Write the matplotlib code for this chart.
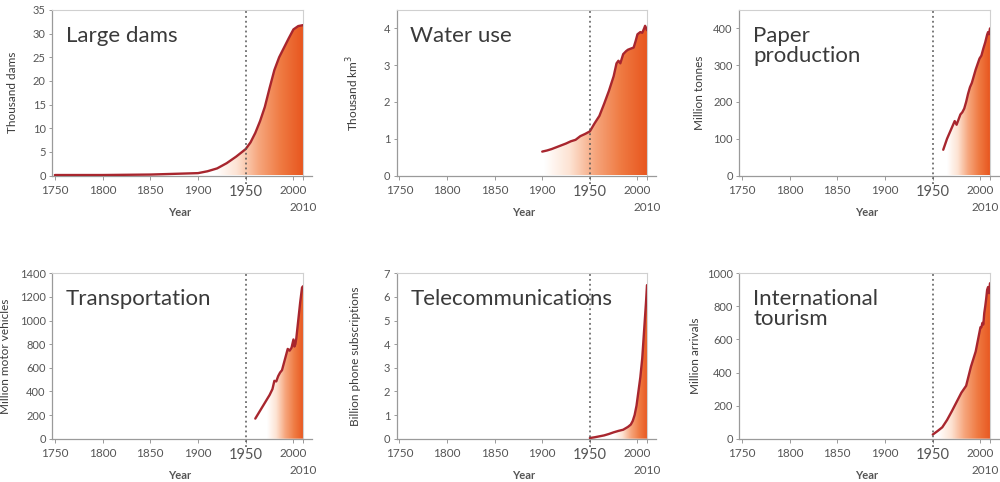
import numpy as np
import matplotlib
matplotlib.use("Agg")
import matplotlib.pyplot as plt
from matplotlib.colors import LinearSegmentedColormap

plt.rcParams["font.family"] = ["Lato", "DejaVu Sans"]

# ---- data -------------------------------------------------------------
dams_years = [1750, 1800, 1850, 1875, 1900, 1910, 1920, 1930, 1940, 1950,
              1955, 1960, 1965, 1970, 1975, 1980, 1985, 1990, 1995, 2000,
              2005, 2010]
dams_vals = [0.1, 0.1, 0.2, 0.35, 0.5, 0.9, 1.5, 2.6, 4.0, 5.6,
             7.0, 9.0, 11.5, 14.5, 18.5, 22.3, 25.0, 27.0, 29.0, 30.9,
             31.6, 31.8]

water_years = [1900, 1905, 1910, 1915, 1920, 1925, 1930, 1935, 1940, 1945,
               1950, 1955, 1960, 1965, 1970, 1975, 1978, 1980, 1982, 1985,
               1988, 1990, 1993, 1996, 1998, 2000, 2003, 2005, 2007, 2008,
               2010]
water_vals = [0.65, 0.68, 0.72, 0.77, 0.82, 0.87, 0.93, 0.97, 1.07, 1.13,
              1.2, 1.42, 1.62, 1.95, 2.3, 2.7, 3.05, 3.12, 3.05, 3.3,
              3.38, 3.42, 3.45, 3.48, 3.65, 3.84, 3.9, 3.88, 4.0, 4.07,
              3.95]

paper_years = [1961, 1963, 1965, 1967, 1970, 1973, 1975, 1977, 1979, 1981,
               1983, 1985, 1987, 1989, 1991, 1993, 1995, 1997, 1999, 2001,
               2003, 2005, 2007, 2008, 2009, 2010]
paper_vals = [70, 85, 100, 112, 130, 148, 138, 152, 166, 172,
              182, 200, 222, 240, 252, 270, 288, 303, 318, 326,
              345, 362, 383, 390, 384, 400]

vehicle_years = [1960, 1963, 1966, 1969, 1972, 1975, 1978, 1980, 1982, 1984,
                 1986, 1988, 1990, 1992, 1994, 1996, 1998, 2000, 2001, 2002,
                 2003, 2005, 2007, 2009, 2010]
vehicle_vals = [170, 210, 250, 290, 330, 370, 420, 490, 485, 530,
                560, 580, 640, 700, 760, 745, 770, 840, 780, 800,
                850, 1000, 1150, 1280, 1290]

phone_years = [1950, 1955, 1960, 1965, 1970, 1975, 1980, 1985, 1990, 1993,
               1995, 1997, 1999, 2001, 2003, 2005, 2007, 2009, 2010]
phone_vals = [0.03, 0.06, 0.1, 0.14, 0.2, 0.27, 0.33, 0.38, 0.5, 0.6,
              0.75, 1.0, 1.4, 2.0, 2.6, 3.4, 4.6, 5.8, 6.5]

tourism_years = [1950, 1955, 1960, 1965, 1970, 1975, 1980, 1985, 1990, 1995,
                 2000, 2001, 2002, 2003, 2004, 2005, 2006, 2007, 2008, 2009,
                 2010]
tourism_vals = [25, 46, 69, 113, 166, 222, 278, 320, 435, 527,
                674, 674, 700, 690, 760, 800, 846, 900, 917, 880,
                940]

titles = ["Large dams", "Water use", "Paper\nproduction",
          "Transportation", "Telecommunications", "International\ntourism"]
ylabels = ["Thousand dams", "Thousand km$^3$", "Million tonnes",
           "Million motor vehicles", "Billion phone subscriptions",
           "Million arrivals"]
ytick_sets = [list(range(0, 36, 5)), [0, 1, 2, 3, 4], [0, 100, 200, 300, 400],
              list(range(0, 1401, 200)), list(range(0, 8)),
              list(range(0, 1001, 200))]
ylims = [35, 4.5, 450, 1400, 7, 1000]
xtick_years = [1750, 1800, 1850, 1900, 1950, 2000]

series = [(dams_years, dams_vals), (water_years, water_vals),
          (paper_years, paper_vals), (vehicle_years, vehicle_vals),
          (phone_years, phone_vals), (tourism_years, tourism_vals)]

# ---- styling ----------------------------------------------------------
W, H = 1000, 482
col_px = [(52, 251), (396.5, 250.5), (739, 251)]
row_px = [(10, 175.5), (273.3, 438.7)]
fade_start = [1918, 1902, 1965, 1972, 1975, 1955]
ylabel_x = [-0.135, -0.14, -0.135, -0.163, -0.14, -0.15]
year_end_shift = [0, 0, -5]

line_color = "#a8262e"
text_color = "#3a3a3a"
tick_color = "#555555"
grad_cmap = LinearSegmentedColormap.from_list(
    "warm", ["#ffffff", "#fde3d3", "#f6a57c", "#ef7a42", "#e8561f"],
)

fig = plt.figure(figsize=(W / 100, H / 100), dpi=100)

for i, (yrs, vals) in enumerate(series):
    r, c = divmod(i, 3)
    left, width = col_px[c]
    top, bottom = row_px[r]
    ax = fig.add_axes([left / W, 1 - bottom / H, width / W, (bottom - top) / H])

    # gradient-filled area under the curve
    poly = ax.fill_between(yrs, vals, 0, color="none", lw=0)
    grad = np.linspace(0, 1, 512)[None, :]
    im = ax.imshow(grad, extent=[fade_start[i], 2010, 0, ylims[i]],
                   aspect="auto", cmap=grad_cmap, origin="lower",
                   interpolation="bilinear", zorder=1)
    im.set_clip_path(poly.get_paths()[0], transform=ax.transData)

    ax.plot(yrs, vals, color=line_color, lw=1.7, zorder=3,
            solid_joinstyle="round", solid_capstyle="round")

    # 1950 marker line
    ax.axvline(1950, ymin=-0.05, ymax=1, color="#555555", lw=1.1,
               ls=(0, (1.2, 2.0)), zorder=4, clip_on=False)

    ax.set_xlim(1747, 2010)
    ax.set_ylim(0, ylims[i])

    for side in ("top", "right"):
        ax.spines[side].set_color("#d0d0d0")
        ax.spines[side].set_linewidth(0.8)
    for side in ("left", "bottom"):
        ax.spines[side].set_color("#9a9a9a")
        ax.spines[side].set_linewidth(0.9)
    ax.plot([1.0, 1.035], [0, 0], transform=ax.transAxes, color="#9a9a9a",
            lw=0.9, clip_on=False)

    ax.set_xticks(xtick_years + [2010])
    ax.set_xticklabels([str(y) for y in xtick_years] + [""])
    for lab, y in zip(ax.get_xticklabels(), xtick_years + [2010]):
        lab.set_fontsize(10.5 if y == 1950 else 8.5)
        lab.set_color(tick_color)
    ax.tick_params(axis="x", length=3, width=0.7, color="#9a9a9a", pad=3.5)

    ax.set_yticks(ytick_sets[i])
    ax.set_yticklabels([str(v) for v in ytick_sets[i]])
    ax.tick_params(axis="y", length=2.5, width=0.7, color="#9a9a9a", pad=2,
                   labelsize=8, labelcolor=tick_color)

    ax.annotate("2010", xy=(2010, 0), xycoords=("data", "axes fraction"),
                xytext=(year_end_shift[c], -32), textcoords="offset pixels",
                ha="center", va="center", fontsize=8.5, color=tick_color)
    ax.annotate("Year", xy=(0.5, 0), xycoords="axes fraction",
                xytext=(2, -37), textcoords="offset pixels", ha="center",
                va="center", fontsize=8, fontweight="bold", color=tick_color)

    ax.set_ylabel(ylabels[i], fontsize=8.5, color=text_color)
    ax.yaxis.set_label_coords(ylabel_x[i], 0.5)

    ax.text(14 / width, 1 - 16 / (bottom - top), titles[i],
            transform=ax.transAxes, ha="left", va="top", fontsize=16,
            color=text_color, linespacing=1.0, zorder=5)

fig.savefig("out.png", dpi=100, facecolor="white")
